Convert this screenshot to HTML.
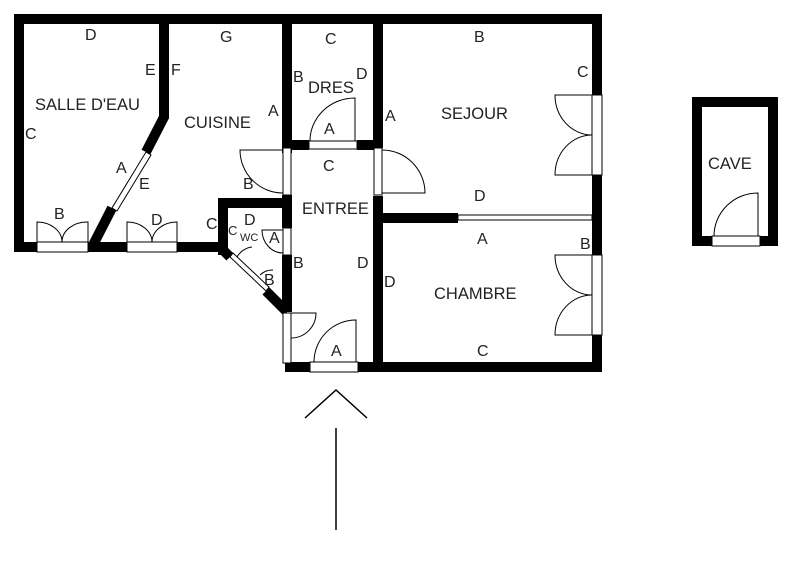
<!DOCTYPE html>
<html><head><meta charset="utf-8"><style>
body{margin:0;background:#fff;}
svg{display:block;}
text{font-family:"Liberation Sans",sans-serif;font-size:16px;fill:#222;}
text.r{font-size:16.5px;}
</style></head><body>
<svg width="800" height="562" viewBox="0 0 800 562" xmlns="http://www.w3.org/2000/svg">
<g stroke="#000" stroke-width="10" fill="none" stroke-linecap="square">
<line x1="19" y1="19" x2="597" y2="19"/>
<line x1="19" y1="19" x2="19" y2="247"/>
<line x1="19" y1="247" x2="37" y2="247" stroke-linecap="butt"/>
<line x1="88" y1="247" x2="127" y2="247" stroke-linecap="butt"/>
<line x1="177" y1="247" x2="223" y2="247" stroke-linecap="butt"/>
<polyline points="164,19 164,117 146,152" stroke-linecap="butt" stroke-linejoin="miter"/>
<line x1="112" y1="208" x2="92" y2="247" stroke-linecap="butt"/>
<line x1="287" y1="19" x2="287" y2="148"/>
<line x1="223" y1="203" x2="287" y2="203"/>
<line x1="223" y1="203" x2="223" y2="250"/>
<line x1="287" y1="195" x2="287" y2="228" stroke-linecap="butt"/>
<line x1="287" y1="255" x2="287" y2="312" stroke-linecap="butt"/>
<line x1="223" y1="250" x2="230" y2="257" stroke-linecap="butt"/>
<line x1="266" y1="291" x2="287" y2="312" stroke-linecap="butt"/>
<line x1="287" y1="145" x2="309" y2="145" stroke-linecap="butt"/>
<line x1="357" y1="145" x2="378" y2="145" stroke-linecap="butt"/>
<line x1="378" y1="19" x2="378" y2="148" stroke-linecap="butt"/>
<line x1="378" y1="196" x2="378" y2="367" stroke-linecap="butt"/>
<line x1="378" y1="218" x2="458" y2="218" stroke-linecap="butt"/>
<line x1="597" y1="19" x2="597" y2="95" stroke-linecap="butt"/>
<line x1="597" y1="175" x2="597" y2="255" stroke-linecap="butt"/>
<line x1="597" y1="335" x2="597" y2="372" stroke-linecap="butt"/>
<line x1="285" y1="367" x2="310" y2="367" stroke-linecap="butt"/>
<line x1="358" y1="367" x2="602" y2="367" stroke-linecap="butt"/>
<rect x="697" y="102" width="76" height="139"/>
</g>
<rect x="712" y="236" width="48" height="10" fill="#fff" stroke="#000" stroke-width="1"/>
<g stroke="#000" stroke-width="1" fill="#fff">
<rect x="37" y="242" width="51" height="10"/>
<rect x="127" y="242" width="50" height="10"/>
<rect x="309" y="141" width="48" height="8"/>
<rect x="310" y="362" width="48" height="10"/>
<rect x="592" y="95" width="10" height="80"/>
<rect x="592" y="255" width="10" height="80"/>
<rect x="283" y="148" width="8" height="47"/>
<rect x="374" y="148" width="8" height="47"/>
<rect x="283" y="228" width="8" height="27"/>
<rect x="283" y="313" width="8" height="50"/>
<rect x="458" y="215" width="134" height="5"/>
<polygon points="146,152 151,155 117,211 112,208" />
<polygon points="230,257 233,253 269,287 266,291"/>
</g>
<g stroke="#000" stroke-width="1" fill="none">
<path d="M37,242 V222 A25,20 0 0 1 62,242 M88,242 V222 A25,20 0 0 0 62,242"/>
<path d="M127,242 V222 A25,20 0 0 1 152,242 M177,242 V222 A25,20 0 0 0 152,242"/>
<path d="M355,141 V98 A45,43 0 0 0 310,141"/>
<path d="M283,150 H240 A43,43 0 0 0 283,193"/>
<path d="M382,150 A43,43 0 0 1 425,193 H382"/>
<path d="M592,95 H555 A37,40 0 0 0 592,135 M592,175 H555 A37,40 0 0 1 592,135"/>
<path d="M592,255 H555 A37,40 0 0 0 592,295 M592,335 H555 A37,40 0 0 1 592,295"/>
<path d="M356,362 V320 A42,42 0 0 0 314,362"/>
<path d="M291,313 H316 A25,25 0 0 1 291,338"/>
<path d="M283,230 H262 A21,23 0 0 0 283,253"/>
<path d="M237,257 A20,20 0 0 1 252,247 M260,275 A18,18 0 0 1 273,270"/>
<path d="M758,236 V193 A44,43 0 0 0 714,236"/>
<polyline points="305,418 336,390 367,418" stroke-width="1.5"/>
<line x1="336" y1="428" x2="336" y2="530" stroke-width="1.5"/>
</g>
<g>
<text x="85" y="40">D</text>
<text x="220" y="42">G</text>
<text x="325" y="44">C</text>
<text x="474" y="42">B</text>
<text x="145" y="75">E</text>
<text x="171" y="75">F</text>
<text x="293" y="82">B</text>
<text x="356" y="79">D</text>
<text x="577" y="77">C</text>
<text class="r" x="308" y="93">DRES</text>
<text class="r" x="35" y="110">SALLE D'EAU</text>
<text class="r" x="184" y="128">CUISINE</text>
<text x="268" y="116">A</text>
<text x="385" y="121">A</text>
<text class="r" x="441" y="119">SEJOUR</text>
<text x="25" y="139">C</text>
<text x="324" y="134">A</text>
<text x="116" y="173">A</text>
<text x="139" y="189">E</text>
<text x="323" y="171">C</text>
<text x="243" y="189">B</text>
<text x="474" y="201">D</text>
<text x="54" y="219">B</text>
<text x="151" y="225">D</text>
<text x="206" y="229">C</text>
<text x="244" y="225">D</text>
<text x="228" y="235" style="font-size:13px">C</text>
<text x="240" y="241" style="font-size:11px">WC</text>
<text x="269" y="243">A</text>
<text class="r" x="302" y="214">ENTREE</text>
<text x="477" y="244">A</text>
<text x="580" y="249">B</text>
<text x="293" y="268">B</text>
<text x="357" y="268">D</text>
<text x="384" y="287">D</text>
<text x="264" y="285">B</text>
<text class="r" x="434" y="299">CHAMBRE</text>
<text x="331" y="356">A</text>
<text x="477" y="356">C</text>
<text class="r" x="708" y="169">CAVE</text>
</g>
</svg>
</body></html>
